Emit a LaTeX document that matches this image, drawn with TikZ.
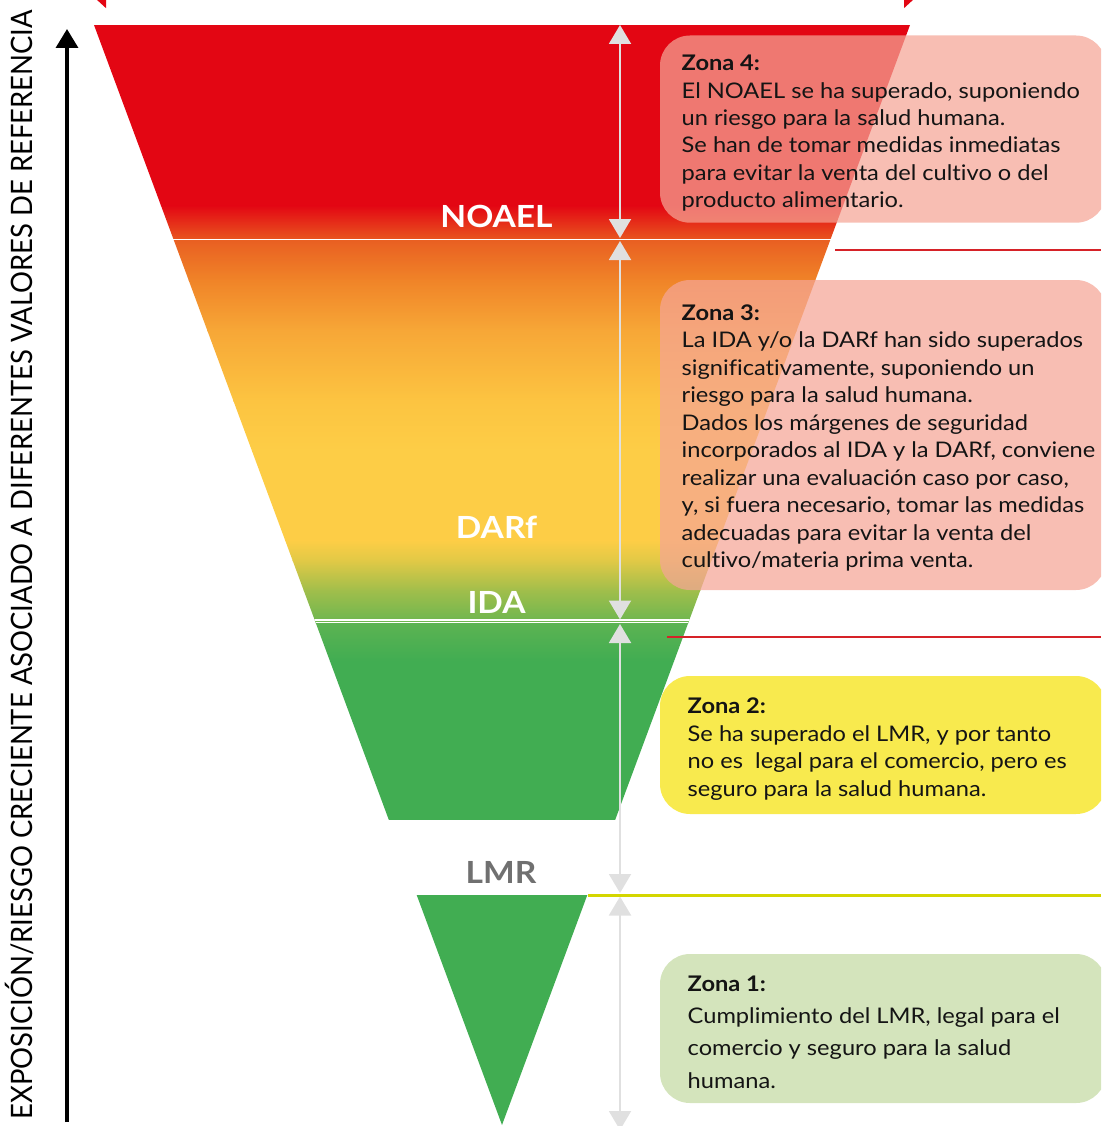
\documentclass[tikz,border=0pt]{standalone}
\usepackage{fontspec}
\setmainfont{Lato}[FakeStretch=1.1, Ligatures=NoCommon]
\newfontfamily\axfont{Lato}[FakeStretch=0.93, Ligatures=NoCommon]
\usetikzlibrary{arrows.meta}
\definecolor{fred}{RGB}{227,6,19}
\definecolor{redorange}{RGB}{232,82,30}
\definecolor{or1}{RGB}{233,96,34}
\definecolor{or2}{RGB}{240,132,40}
\definecolor{or3}{RGB}{247,167,55}
\definecolor{ye1}{RGB}{252,196,65}
\definecolor{ye2}{RGB}{253,205,70}
\definecolor{yg1}{RGB}{225,201,70}
\definecolor{yg2}{RGB}{160,190,75}
\definecolor{yg3}{RGB}{108,182,80}
\definecolor{gr0}{RGB}{92,179,82}
\definecolor{gr}{RGB}{65,173,82}
\definecolor{arrgray}{RGB}{224,224,224}
\definecolor{linered}{RGB}{214,34,40}
\definecolor{lineyel}{RGB}{212,214,0}
\definecolor{pinkbox}{RGB}{245,165,150}
\definecolor{yelbox}{RGB}{248,234,78}
\definecolor{grnbox}{RGB}{212,228,188}
\definecolor{lmrgray}{RGB}{112,112,112}
\definecolor{txtblack}{RGB}{20,20,20}
\tikzset{
  txt/.style={anchor=base west, inner sep=0pt, text=txtblack, font=\fontsize{21.5}{27.4}\selectfont},
  ttl/.style={txt, font=\bfseries\fontsize{21.5}{27.4}\selectfont},
  lab/.style={anchor=base, inner sep=0pt, text=white, font=\bfseries\fontsize{30.5}{30.5}\selectfont},
  garrow/.style={draw=arrgray, line width=2pt, {Triangle[width=22pt,length=19pt]}-{Triangle[width=22pt,length=19pt]}},
  zbox/.style={rounded corners=30pt},
}
\begin{document}
\begin{tikzpicture}[x=1pt,y=-1pt]
\useasboundingbox (0,0) rectangle (1101,1126);
\clip (0,0) rectangle (1101,1126);

% top remnant double arrow
\coordinate (ta) at (96,-1);
\coordinate (tb) at (914,-1);
\draw[fred!40, line width=1.5pt, {Triangle[width=18pt,length=10pt,fill=fred,color=fred]}-{Triangle[width=18pt,length=10pt,fill=fred,color=fred]}] (ta) -- (tb);

% funnel
\begin{scope}
\clip (94,25) -- (910,25) -- (502,1125) -- cycle;
\fill[fred] (0,25) rectangle (1101,206);
\shade[top color=fred, bottom color=redorange] (0,205.5) rectangle (1101,238);
\shade[top color=or1, bottom color=or2] (0,240.5) rectangle (1101,281);
\shade[top color=or2, bottom color=or3] (0,280.5) rectangle (1101,331);
\shade[top color=or3, bottom color=ye1] (0,330.5) rectangle (1101,401);
\shade[top color=ye1, bottom color=ye2] (0,400.5) rectangle (1101,451);
\fill[ye2] (0,450.5) rectangle (1101,541);
\shade[top color=ye2, bottom color=yg1] (0,540.5) rectangle (1101,561);
\shade[top color=yg1, bottom color=yg2] (0,560.5) rectangle (1101,591);
\shade[top color=yg2, bottom color=yg3] (0,590.5) rectangle (1101,623);
\shade[top color=gr0, bottom color=gr] (0,622.5) rectangle (1101,661);
\fill[gr] (0,660.5) rectangle (1101,820);
\fill[gr] (0,895) rectangle (1101,1126);
\draw[white, line width=1.3pt] (0,620) -- (1101,620);
\draw[white, line width=1.3pt] (0,622.8) -- (1101,622.8);
\end{scope}

% labels in funnel
\node[lab] (noael) at (496.5,227) {NOAEL};
\node[lab] (darf) at (496.5,538.3) {DARf};
\node[lab] (ida) at (496.5,613.3) {IDA};
\node[lab, text=lmrgray] (lmr) at (501,883.3) {LMR};

% gray double arrows
\coordinate (g1a) at (620,25);
\coordinate (g1b) at (620,238);
\coordinate (g2a) at (620,241);
\coordinate (g2b) at (620,619.5);
\coordinate (g3a) at (620,624);
\coordinate (g3b) at (620,893);
\coordinate (g4a) at (620,896.5);
\coordinate (g4b) at (620,1130);
\draw[garrow] (g1a) -- (g1b);
\draw[garrow] (g2a) -- (g2b);
\draw[garrow] (g3a) -- (g3b);
\draw[garrow] (g4a) -- (g4b);

% right separator lines
\coordinate (r1a) at (835,250);
\coordinate (r1b) at (1101,250);
\coordinate (r2a) at (667,637);
\coordinate (r2b) at (1101,637);
\coordinate (y1a) at (588,895.7);
\coordinate (y1b) at (1101,895.7);
\draw[linered, line width=2.5pt] (r1a) -- (r1b);
\draw[linered, line width=2.5pt] (r2a) -- (r2b);
\draw[lineyel, line width=2.5pt] (y1a) -- (y1b);

% boxes
\fill[pinkbox, fill opacity=0.72, zbox] (660,35.5) rectangle (1106,222.7);
\fill[pinkbox, fill opacity=0.72, zbox] (660,280) rectangle (1106,590);
\fill[yelbox, zbox] (660,676) rectangle (1106,814);
\fill[grnbox, zbox] (660,954) rectangle (1106,1103);

% Zona 4 text
\node[ttl] (z4t) at (681.5,70.7) {Zona 4:};
\foreach \t [count=\i] in {{El NOAEL se ha superado, suponiendo},{un riesgo para la salud humana.},{Se han de tomar medidas inmediatas},{para evitar la venta del cultivo o del},{producto alimentario.}}
  \node[txt] (z4-\i) at ({681.5},{70.7+27.35*\i}) {\t};

% Zona 3 text
\node[ttl] (z3t) at (681.5,320) {Zona 3:};
\foreach \t [count=\i] in {{La IDA y/o la DARf han sido superados},{significativamente, suponiendo un},{riesgo para la salud humana.},{Dados los márgenes de seguridad},{incorporados al IDA y la DARf, conviene},{realizar una evaluación caso por caso,},{y, si fuera necesario, tomar las medidas},{adecuadas para evitar la venta del},{cultivo/materia prima venta.}}
  \node[txt] (z3-\i) at ({681.5},{320+27.52*\i}) {\t};

% Zona 2 text
\node[ttl] (z2t) at (687.5,713.3) {Zona 2:};
\foreach \t [count=\i] in {{Se ha superado el LMR, y por tanto},{no es\ \ legal para el comercio, pero es},{seguro para la salud humana.}}
  \node[txt] (z2-\i) at ({687.5},{713.3+27.8*\i}) {\t};

% Zona 1 text
\node[ttl] (z1t) at (687.5,991) {Zona 1:};
\foreach \t [count=\i] in {{Cumplimiento del LMR, legal para el},{comercio y seguro para la salud},{humana.}}
  \node[txt] (z1-\i) at ({687.5},{991+32.45*\i}) {\t};

% left axis arrow
\coordinate (axb) at (67,1122);
\coordinate (axt) at (67,29);
\draw[black, line width=3.5pt, -{Triangle[width=22pt,length=19pt]}] (axb) -- (axt);
\node[rotate=90, anchor=base, inner sep=0pt, font=\axfont\fontsize{29.5}{29.5}\selectfont] (axlabel) at (32.5,565) {EXPOSICIÓN/RIESGO CRECIENTE ASOCIADO A DIFERENTES VALORES DE REFERENCIA};
\end{tikzpicture}
\end{document}
